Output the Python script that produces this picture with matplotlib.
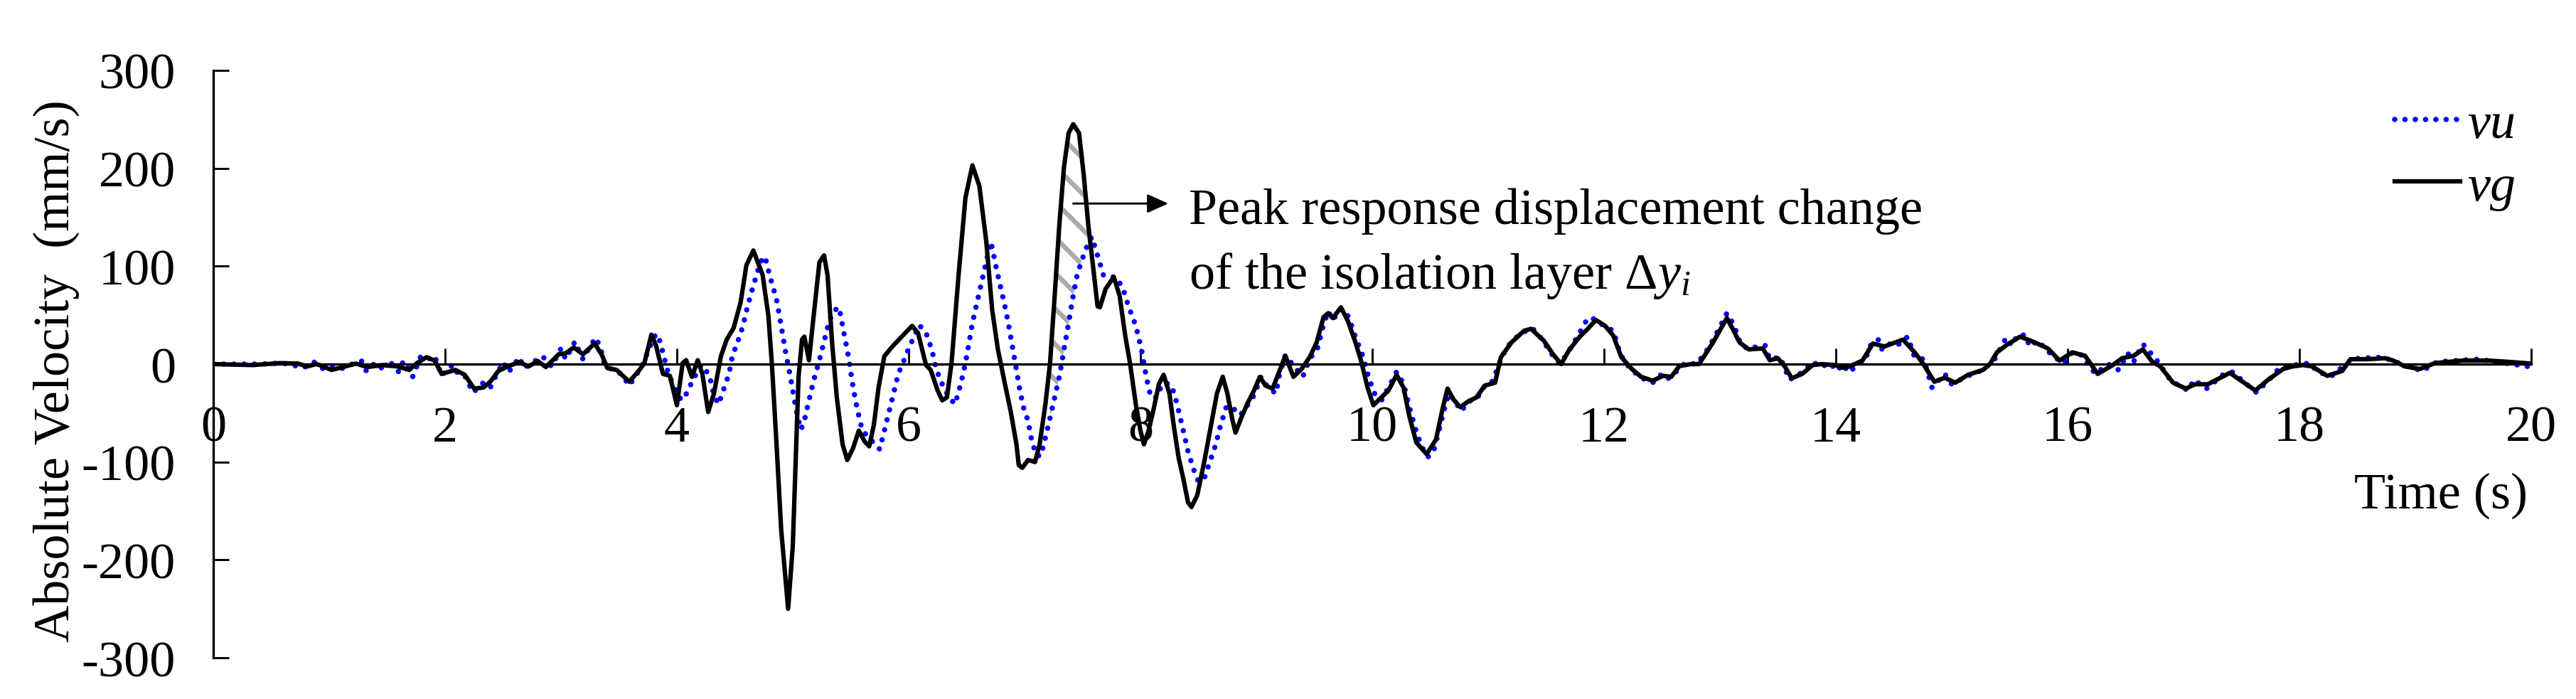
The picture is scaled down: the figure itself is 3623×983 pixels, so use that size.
import numpy as np
import matplotlib
matplotlib.use("Agg")
import matplotlib.pyplot as plt

# ground velocity vg (black solid)
t_vg = [0.00, 0.34, 0.57, 0.73, 0.81, 0.89, 0.94, 1.02, 1.10, 1.23,
        1.33, 1.46, 1.59, 1.69, 1.76, 1.84, 1.91, 1.97, 2.09, 2.17,
        2.25, 2.33, 2.39, 2.46, 2.54, 2.64, 2.72, 2.80, 2.87, 2.98,
        3.04, 3.11, 3.19, 3.29, 3.35, 3.40, 3.48, 3.59, 3.67, 3.72,
        3.78, 3.82, 3.88, 3.94, 4.00, 4.05, 4.08, 4.13, 4.18, 4.22,
        4.27, 4.32, 4.38, 4.43, 4.49, 4.55, 4.60, 4.66, 4.74, 4.79,
        4.82, 4.86, 4.90, 4.96, 5.00, 5.03, 5.05, 5.08, 5.10, 5.14,
        5.18, 5.23, 5.27, 5.30, 5.34, 5.38, 5.43, 5.47, 5.52, 5.57,
        5.62, 5.66, 5.70, 5.74, 5.79, 5.86, 5.94, 6.03, 6.08, 6.15,
        6.19, 6.25, 6.29, 6.33, 6.37, 6.43, 6.49, 6.55, 6.61, 6.67,
        6.72, 6.77, 6.83, 6.88, 6.93, 6.95, 6.98, 7.03, 7.09, 7.13,
        7.18, 7.22, 7.26, 7.30, 7.34, 7.38, 7.42, 7.47, 7.51, 7.55,
        7.59, 7.63, 7.65, 7.70, 7.77, 7.82, 7.87, 7.91, 7.96, 8.00,
        8.03, 8.07, 8.11, 8.16, 8.20, 8.25, 8.29, 8.33, 8.37, 8.41,
        8.44, 8.49, 8.55, 8.61, 8.66, 8.71, 8.75, 8.79, 8.82, 8.87,
        8.92, 8.98, 9.03, 9.08, 9.14, 9.20, 9.25, 9.32, 9.39, 9.46,
        9.52, 9.58, 9.62, 9.66, 9.73, 9.79, 9.85, 9.90, 9.96, 10.01,
        10.07, 10.14, 10.21, 10.27, 10.32, 10.38, 10.47, 10.55, 10.61, 10.65,
        10.70, 10.76, 10.83, 10.90, 10.97, 11.06, 11.11, 11.20, 11.31, 11.37,
        11.48, 11.56, 11.63, 11.70, 11.79, 11.86, 11.93, 12.01, 12.08, 12.15,
        12.24, 12.32, 12.42, 12.51, 12.58, 12.65, 12.75, 12.82, 12.94, 13.06,
        13.11, 13.17, 13.25, 13.37, 13.43, 13.50, 13.56, 13.62, 13.71, 13.80,
        13.88, 13.99, 14.06, 14.12, 14.23, 14.32, 14.42, 14.51, 14.58, 14.68,
        14.75, 14.85, 14.94, 15.03, 15.14, 15.27, 15.33, 15.39, 15.48, 15.59,
        15.70, 15.83, 15.93, 16.04, 16.15, 16.26, 16.39, 16.47, 16.57, 16.65,
        16.73, 16.80, 16.91, 17.02, 17.10, 17.21, 17.40, 17.62, 17.73, 17.86,
        17.94, 18.03, 18.11, 18.24, 18.37, 18.44, 18.59, 18.74, 18.81, 18.91,
        19.04, 19.17, 19.41, 19.63, 19.84, 20.00]
v_vg = [0, -1, 1, 0.5, -2.4, 0, -2, -6, -3.6, 0.5,
        -3, -1, -2.4, -6, 1.2, 7, 3.6, -10, -6, -11,
        -25, -24, -18, -7, -2.4, 2, -2.4, 3, -3, 10,
        11, 17, 10, 21, 10, -4, -6, -18, -7, 1,
        30, 19, -10, -12, -42, 1, 4, -13, 4, -10,
        -49, -30, 8, 25, 37, 63, 101, 116, 91, 49,
        0, -82, -169, -250, -186, -82, -13, 25, 28, 4,
        49, 104, 111, 91, 21, -34, -82, -98, -86, -68,
        -79, -84, -62, -24, 8, 18, 28, 39, 32, -1,
        -6, -27, -37, -34, 1, 90, 170, 203, 182, 125,
        56, 15, -20, -48, -82, -103, -106, -98, -100, -82,
        -41, 1, 70, 142, 201, 236, 245, 236, 194, 142,
        101, 59, 58, 77, 89, 70, 28, 1, -41, -68,
        -82, -68, -48, -20, -11, -30, -65, -96, -117, -141,
        -146, -134, -100, -62, -30, -13, -30, -55, -70, -55,
        -41, -27, -13, -22, -25, -7, 8.5, -13, -5, 7,
        22, 48, 52, 47, 58, 44, 24, 5, -24, -42,
        -35, -27, -11, -24, -53, -80, -92, -77, -44, -25,
        -36, -44, -38, -34, -22, -19, 7, 22, 34, 36,
        24, 10, 0, 14.5, 28, 36, 45, 39, 29, 7,
        -5, -13, -17, -12, -13, -2, 0, 0, 22, 47,
        36, 22, 15, 16, 4, 6, -2.4, -14.5, -10, -1,
        0, -1, -3.6, -2.4, 3.6, 21, 18, 22, 25, 12,
        1, -18, -14, -19, -11, -6, 0, 12, 20, 28,
        23, 16, 3.6, 12, 8.5, -10, -1, 6, 8.5, 15,
        2.4, -2.4, -19, -25, -20.6, -20.6, -9, -27, -16, -5,
        -2.4, -1, -2.4, -12, -7, 5, 5, 6, 3.6, -2.4,
        -5, 1, 3.6, 3.6, 2, 0.5]

# upper velocity vu (blue dotted)
t_vu = [0.00, 0.40, 0.60, 0.78, 0.87, 0.95, 1.02, 1.10, 1.20, 1.28,
        1.32, 1.37, 1.42, 1.47, 1.51, 1.56, 1.60, 1.64, 1.68, 1.72,
        1.79, 1.85, 1.91, 1.97, 2.02, 2.07, 2.11, 2.17, 2.24, 2.29,
        2.33, 2.39, 2.43, 2.50, 2.55, 2.60, 2.64, 2.68, 2.76, 2.84,
        2.92, 3.00, 3.04, 3.12, 3.19, 3.25, 3.30, 3.34, 3.38, 3.45,
        3.52, 3.59, 3.64, 3.69, 3.76, 3.82, 3.86, 3.88, 3.92, 3.99,
        4.04, 4.09, 4.13, 4.21, 4.28, 4.32, 4.36, 4.40, 4.45, 4.48,
        4.52, 4.57, 4.61, 4.66, 4.72, 4.76, 4.80, 4.86, 4.90, 4.94,
        4.98, 5.01, 5.04, 5.07, 5.10, 5.14, 5.18, 5.23, 5.27, 5.31,
        5.35, 5.40, 5.43, 5.48, 5.52, 5.56, 5.60, 5.65, 5.71, 5.75,
        5.79, 5.83, 5.87, 5.91, 5.95, 5.99, 6.09, 6.15, 6.20, 6.24,
        6.30, 6.35, 6.40, 6.45, 6.49, 6.52, 6.55, 6.59, 6.63, 6.67,
        6.71, 6.76, 6.80, 6.84, 6.87, 6.90, 6.93, 6.96, 6.99, 7.03,
        7.06, 7.10, 7.14, 7.18, 7.22, 7.26, 7.30, 7.33, 7.36, 7.39,
        7.42, 7.45, 7.48, 7.53, 7.58, 7.63, 7.68, 7.74, 7.79, 7.85,
        7.90, 7.96, 8.01, 8.05, 8.09, 8.14, 8.19, 8.25, 8.29, 8.33,
        8.37, 8.41, 8.46, 8.50, 8.55, 8.59, 8.65, 8.69, 8.74, 8.80,
        8.83, 8.87, 8.93, 8.98, 9.04, 9.10, 9.17, 9.20, 9.25, 9.33,
        9.40, 9.46, 9.53, 9.58, 9.62, 9.66, 9.72, 9.76, 9.80, 9.86,
        9.92, 9.97, 10.02, 10.08, 10.14, 10.21, 10.27, 10.33, 10.38, 10.43,
        10.48, 10.53, 10.58, 10.62, 10.66, 10.70, 10.77, 10.83, 10.90, 10.96,
        11.03, 11.08, 11.12, 11.20, 11.28, 11.38, 11.46, 11.55, 11.62, 11.70,
        11.78, 11.86, 11.92, 12.00, 12.08, 12.14, 12.22, 12.32, 12.42, 12.50,
        12.55, 12.62, 12.70, 12.80, 12.90, 13.00, 13.06, 13.12, 13.18, 13.25,
        13.32, 13.39, 13.43, 13.52, 13.60, 13.73, 13.80, 13.87, 13.95, 14.01,
        14.06, 14.11, 14.21, 14.25, 14.31, 14.37, 14.40, 14.48, 14.54, 14.62,
        14.68, 14.76, 14.83, 14.94, 15.00, 15.14, 15.27, 15.37, 15.47, 15.52,
        15.57, 15.64, 15.67, 15.74, 15.83, 15.96, 16.04, 16.11, 16.24, 16.35,
        16.44, 16.52, 16.57, 16.65, 16.78, 16.89, 17.04, 17.09, 17.20, 17.34,
        17.42, 17.63, 17.77, 17.83, 17.95, 18.09, 18.16, 18.28, 18.40, 18.51,
        18.72, 18.94, 19.06, 19.19, 19.54, 19.97]
v_vu = [0, 0, 1, -3.6, 2, -5, -3, -5, 0, 3,
        -7, -1, 1, -7, 4, -2, -8, 3, -4, -13,
        8, 5, 8.5, -12, -5, -1, -10, -12, -29, -24,
        -19, -24, -14, 2, -8, 0, 7, -4, 2, 8,
        -2.4, 16, 5, 23, 5, 18, 27, 17, -2, -6,
        -10, -22, -12, -5, 16, 31, 22, 11, -7, -28,
        -37, -29, -18, -1, -11, -32, -41, -27, -10, 9,
        21, 39, 59, 80, 104, 110, 91, 66, 39, 11,
        -13, -34, -53, -67, -58, -37, -17, 4, 23, 42,
        54, 58, 39, 8, -23.5, -48, -68, -74, -82, -87,
        -68, -49, -30, -10, 1, 13, 40, 32, 14.5, -6,
        -23.5, -34, -41, -20, 1, 21, 42, 63, 84, 105,
        125, 96, 75, 54, 35, 14.5, -6, -27, -44, -58,
        -77, -93, -94, -75, -55, -34, -13, 7.6, 28, 49,
        70, 89, 101, 118, 130, 111, 91, 89, 89, 77,
        58, 39, 14.5, -13, -34, -34, -20, -20, -29, -48,
        -68, -89, -108, -120, -117, -103, -82, -63, -44, -44,
        -51, -51, -41, -32, -13, -24, -30, -10, 9, -3,
        -13, 5, 17, 40, 54, 45, 55, 56, 47, 26,
        8, -14, -30, -37, -24, -8, -20, -48, -69, -85,
        -95, -89, -66, -47, -30, -36, -48, -38, -36, -24,
        -19, -5, 8, 23, 31, 37, 26, 10, 0, 14,
        30, 47, 46, 39, 34, 10, -4, -14, -19, -10,
        -15, -8, 1, 0, 16, 38, 52, 40, 20, 15,
        18, 19, 5, 7, -16, -7, 2.4, -3, 1, -7,
        0, -8.5, 1, 3.6, 22, 25, 14.5, 22, 20, 28,
        7, 5, -24, -10, -20.6, -12, -6, 5, 27, 19,
        30, 29.5, 18, 24, 13, 0.5, 12, 10, -10, 0,
        -6, 11, 2.4, 20.6, 2.4, -17, -27, -16, -25, -11,
        -8, -29, -12, -3.6, -1, 1, -8.5, -12, 0, 6,
        7, -2.4, -7, 2.4, 5, -2.4]

x_ticks = [0, 2, 4, 6, 8, 10, 12, 14, 16, 18, 20]
y_ticks = [-300, -200, -100, 0, 100, 200, 300]
hatch_span = (7.20, 7.56)   # shaded peak difference

FS = 17.3
plt.rcParams['font.family'] = ['Liberation Serif', 'DejaVu Serif']
plt.rcParams['mathtext.fontset'] = 'custom'
plt.rcParams['mathtext.rm'] = 'Liberation Serif'
plt.rcParams['mathtext.it'] = 'Liberation Serif:italic'
plt.rcParams['axes.unicode_minus'] = False
plt.rcParams['hatch.linewidth'] = 1.6
plt.rcParams['hatch.color'] = '#ababab'

fig = plt.figure(figsize=(3623 / 300, 984 / 300), dpi=300)
ax = fig.add_axes([0.0828, 0.0589, 0.8998, 0.8395])

# hatched area between the two curves around the main peak
tt = np.array(sorted(set([t for t in t_vg + t_vu if hatch_span[0] <= t <= hatch_span[1]])))
g_i = np.interp(tt, t_vg, v_vg)
u_i = np.interp(tt, t_vu, v_vu)
ax.fill_between(tt, u_i, g_i, where=g_i >= u_i, interpolate=True,
                facecolor='white', edgecolor='#ababab', linewidth=0, hatch='\\\\', zorder=1)

ax.plot(t_vu, v_vu, color='#0000ff', lw=1.8, linestyle=(0, (0.01, 1.92)),
        dash_capstyle='round', label='vu', zorder=2)
ax.plot(t_vg, v_vg, color='black', lw=1.5, solid_joinstyle='round', label='vg', zorder=3)

ax.set_xlim(0, 20)
ax.set_ylim(-300, 300)
ax.set_xticks(x_ticks)
ax.set_yticks(y_ticks)
for s in ['top', 'right']:
    ax.spines[s].set_visible(False)
ax.spines['bottom'].set_position(('data', 0))
ax.spines['bottom'].set_linewidth(0.8)
ax.spines['left'].set_linewidth(0.8)
ax.tick_params(direction='in', length=5.3, width=0.7, labelsize=FS)
ax.tick_params(axis='x', pad=13.9)
ax.tick_params(axis='y', pad=12.7)

ax.set_ylabel('Absolute Velocity  (mm/s)', fontsize=FS)
ax.yaxis.set_label_coords(-0.0577, 0.49)
ax.set_xlabel('Time (s)', fontsize=FS)
ax.xaxis.set_label_coords(0.961, 0.316)

ax.annotate('', xy=(8.24, 164), xytext=(7.42, 164),
            arrowprops=dict(arrowstyle='-|>,head_length=0.6,head_width=0.27',
                            mutation_scale=10, lw=0.7, color='black', shrinkA=0, shrinkB=0))
ax.text(8.42, 144, 'Peak response displacement change', fontsize=FS, ha='left', va='baseline')
ax.text(8.42, 78, r'of the isolation layer $\Delta y_i$', fontsize=FS, ha='left', va='baseline')

ax.legend(loc='upper left', bbox_to_anchor=(0.9296, 0.8537), bbox_transform=fig.transFigure,
          frameon=False, borderpad=0, borderaxespad=0, handlelength=1.28, handletextpad=0.14,
          labelspacing=0.3, prop=dict(family='Liberation Serif', style='italic', size=FS))

fig.savefig('out.png', dpi=300)
